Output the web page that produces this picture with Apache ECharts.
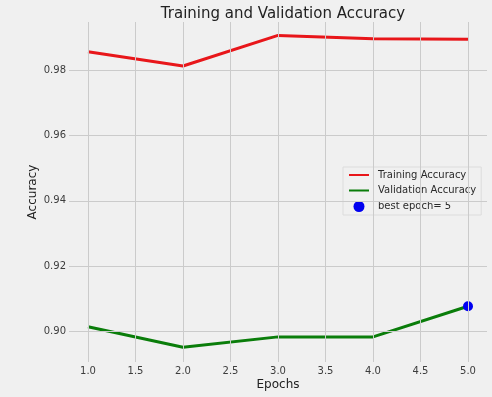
<!DOCTYPE html>
<html>
<head>
<meta charset="utf-8">
<script src="https://cdn.jsdelivr.net/npm/echarts@6/dist/echarts.min.js"></script>
<style>
  html, body { margin: 0; padding: 0; background: #f0f0f0; }
  #main { width: 492px; height: 397px; }
</style>
</head>
<body>
<div id="main"></div>
<script>
var epochs = [1, 2, 3, 4, 5];
var trainAcc = [0.9857, 0.9813, 0.9907, 0.9897, 0.9895];
var valAcc = [0.9014, 0.8951, 0.8983, 0.8983, 0.9077];
var bestEpoch = 5;
var bestVal = 0.9077;
var xTicks = [1.0, 1.5, 2.0, 2.5, 3.0, 3.5, 4.0, 4.5, 5.0];
var yTicks = [0.90, 0.92, 0.94, 0.96, 0.98];

var myChart = echarts.init(document.getElementById('main'));

function pairs (xs, ys) {
	var out = [];
	for (var i = 0; i < xs.length; i++) out.push([xs[i], ys[i]]);
	return out;
}

// grid lines drawn as markLines at the tick values
var gridLines = [];
xTicks.forEach(function (v) { gridLines.push({xAxis: v}); });
yTicks.forEach(function (v) { gridLines.push({yAxis: v}); });

var noSymbol = { color: 'rgba(0,0,0,0)', borderWidth: 0 };

var option = {
    backgroundColor: '#f0f0f0',
    animation: false,
    title: {
        text: 'Training and Validation Accuracy',
        left: 278,
        textAlign: 'center',
        top: 2,
        textStyle: {
            color: '#222',
            fontFamily: 'DejaVu Sans',
            fontWeight: 'normal',
            fontSize: 15
        }
    },
    grid: {
        left: 69,
        right: 5,
        top: 22,
        bottom: 35,
        outerBoundsMode: 'none',
        containLabel: false
    },
    legend: {
        orient: 'vertical',
        left: 343,
        top: 167,
        padding: [3, 5, 3, 5],
        itemGap: 5.5,
        itemWidth: 20,
        itemHeight: 11,
        backgroundColor: '#f0f0f0',
        borderColor: '#dcdcdc',
        borderWidth: 1,
        textStyle: {
            color: '#2a2a2a',
            fontFamily: 'DejaVu Sans',
            fontSize: 10,
            padding: [0, 0, 0, 4]
        },
        data: [
            {name: 'Training Accuracy', itemStyle: noSymbol},
            {name: 'Validation Accuracy', itemStyle: noSymbol},
            {name: 'best epoch= ' + bestEpoch}
        ]
    },
    xAxis: {
        type: 'value',
        min: 0.8,
        max: 5.2,
        name: 'Epochs',
        nameLocation: 'middle',
        nameGap: 17,
        nameMoveOverlap: false,
        nameTextStyle: { color: '#222', fontFamily: 'DejaVu Sans', fontSize: 12 },
        axisLine: { show: false },
        axisTick: { show: false },
        splitLine: { show: false },
        axisLabel: {
            customValues: xTicks,
            color: '#3c3c3c',
            fontFamily: 'DejaVu Sans',
            fontSize: 10,
            margin: 4,
            formatter: function (v) { return v.toFixed(1); }
        }
    },
    yAxis: {
        type: 'value',
        min: 0.8906,
        max: 0.9948,
        name: 'Accuracy',
        nameLocation: 'middle',
        nameGap: 30,
        nameMoveOverlap: false,
        nameTextStyle: { color: '#222', fontFamily: 'DejaVu Sans', fontSize: 12 },
        axisLine: { show: false },
        axisTick: { show: false },
        splitLine: { show: false },
        axisLabel: {
            customValues: yTicks,
            color: '#3c3c3c',
            fontFamily: 'DejaVu Sans',
            fontSize: 10,
            margin: 3,
            formatter: function (v) { return v.toFixed(2); }
        }
    },
    series: [
        {
            name: 'grid',
            type: 'line',
            data: [],
            silent: true,
            z: 0,
            markLine: {
                silent: true,
                symbol: 'none',
                label: { show: false },
                lineStyle: { color: '#cbcbcb', width: 1, type: 'solid' },
                data: gridLines
            }
        },
        {
            name: 'Training Accuracy',
            type: 'line',
            data: pairs(epochs, trainAcc),
            symbol: 'none',
            color: '#e8161a',
            lineStyle: { color: '#e8161a', width: 3 },
            z: 3
        },
        {
            name: 'Validation Accuracy',
            type: 'line',
            data: pairs(epochs, valAcc),
            symbol: 'none',
            color: '#0a7d0a',
            lineStyle: { color: '#0a7d0a', width: 3 },
            z: 3
        },
        {
            name: 'best epoch= ' + bestEpoch,
            type: 'scatter',
            data: [[bestEpoch, bestVal]],
            symbol: 'circle',
            symbolSize: 10,
            itemStyle: { color: '#0000f0', opacity: 1 },
            z: 4
        }
    ]
};

myChart.setOption(option);
</script>
</body>
</html>
